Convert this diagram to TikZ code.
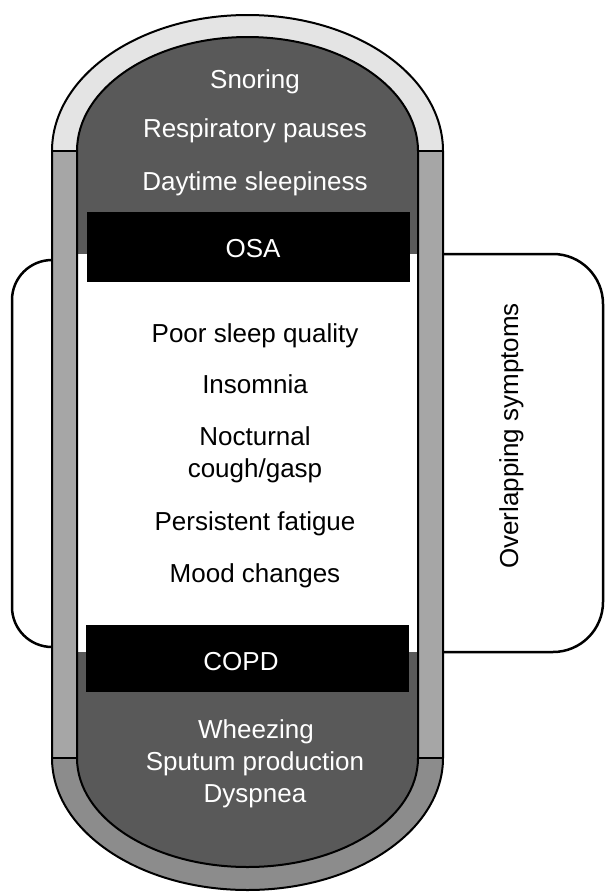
\documentclass[tikz,border=0pt]{standalone}
\usepackage{fontspec}
\setmainfont{Liberation Sans}
\definecolor{capgray}{HTML}{E4E4E4}
\definecolor{sidegray}{HTML}{A6A6A6}
\definecolor{botgray}{HTML}{8C8C8C}
\definecolor{darkfill}{HTML}{595959}
\begin{document}
\begin{tikzpicture}[x=1pt,y=-1pt,
  lbl/.style={anchor=base, inner sep=0pt, font=\fontsize{26}{31}\selectfont},
  wlbl/.style={lbl, text=white},
  outl/.style={draw=black, line width=2pt},
  brk/.style={draw=black, line width=2.5pt},
  blackbox/.style={fill=black, draw=none, anchor=north west, inner sep=0pt}]
\useasboundingbox (0,0) rectangle (605,892);
% outer capsule fills
\fill[capgray] (52,151) arc[start angle=180, end angle=360, x radius=195.5, y radius=136] -- cycle;
\fill[sidegray] (52,151) rectangle (77,758);
\fill[sidegray] (418,151) rectangle (443,758);
\fill[botgray] (443,758) arc[start angle=0, end angle=180, x radius=195.5, y radius=132] -- cycle;
% inner capsule
\fill[darkfill] (77,758) -- (77,151) arc[start angle=180, end angle=360, x radius=170.5, y radius=114] -- (418,758) arc[start angle=0, end angle=180, x radius=170.5, y radius=109] -- cycle;
\fill[white] (78,254) rectangle (417,652);
\draw[outl] (77,758) -- (77,151) arc[start angle=180, end angle=360, x radius=170.5, y radius=114] -- (418,758) arc[start angle=0, end angle=180, x radius=170.5, y radius=109] -- cycle;
% outer outline
\draw[outl] (52,758) -- (52,151) arc[start angle=180, end angle=360, x radius=195.5, y radius=136] -- (443,758) arc[start angle=0, end angle=180, x radius=195.5, y radius=132] -- cycle;
% separators
\draw[outl] (52,151) -- (77,151) (418,151) -- (443,151) (52,758) -- (77,758) (418,758) -- (443,758);
% brackets
\draw[brk, rounded corners=50pt] (443,254) -- (603,254) -- (603,652) -- (443,652);
\draw[brk, rounded corners=40pt] (52,260) -- (12,260) -- (12,647) -- (52,647);
% black boxes
\node[blackbox, minimum width=323pt, minimum height=70pt] (osabox) at (87,212) {};
\node[blackbox, minimum width=323pt, minimum height=67pt] (copdbox) at (86,625) {};
% texts
\node[wlbl] (snoring) at (255,88) {Snoring};
\node[wlbl] (resp) at (255,137) {Respiratory pauses};
\node[wlbl] (daytime) at (255,190) {Daytime sleepiness};
\node[wlbl] (osa) at (253,257) {OSA};
\node[lbl] (poor) at (255,342) {Poor sleep quality};
\node[lbl] (insomnia) at (255,393) {Insomnia};
\node[lbl] (noct) at (255,445) {Nocturnal};
\node[lbl] (cough) at (255,477) {cough/gasp};
\node[lbl] (persist) at (255,530) {Persistent fatigue};
\node[lbl] (mood) at (255,582) {Mood changes};
\node[wlbl] (copd) at (241,670) {COPD};
\node[wlbl] (wheeze) at (256,738) {Wheezing};
\node[wlbl] (sputum) at (255,770) {Sputum production};
\node[wlbl] (dysp) at (255,802) {Dyspnea};
\node[lbl, rotate=90] (overlap) at (518,436) {Overlapping symptoms};
\end{tikzpicture}
\end{document}
